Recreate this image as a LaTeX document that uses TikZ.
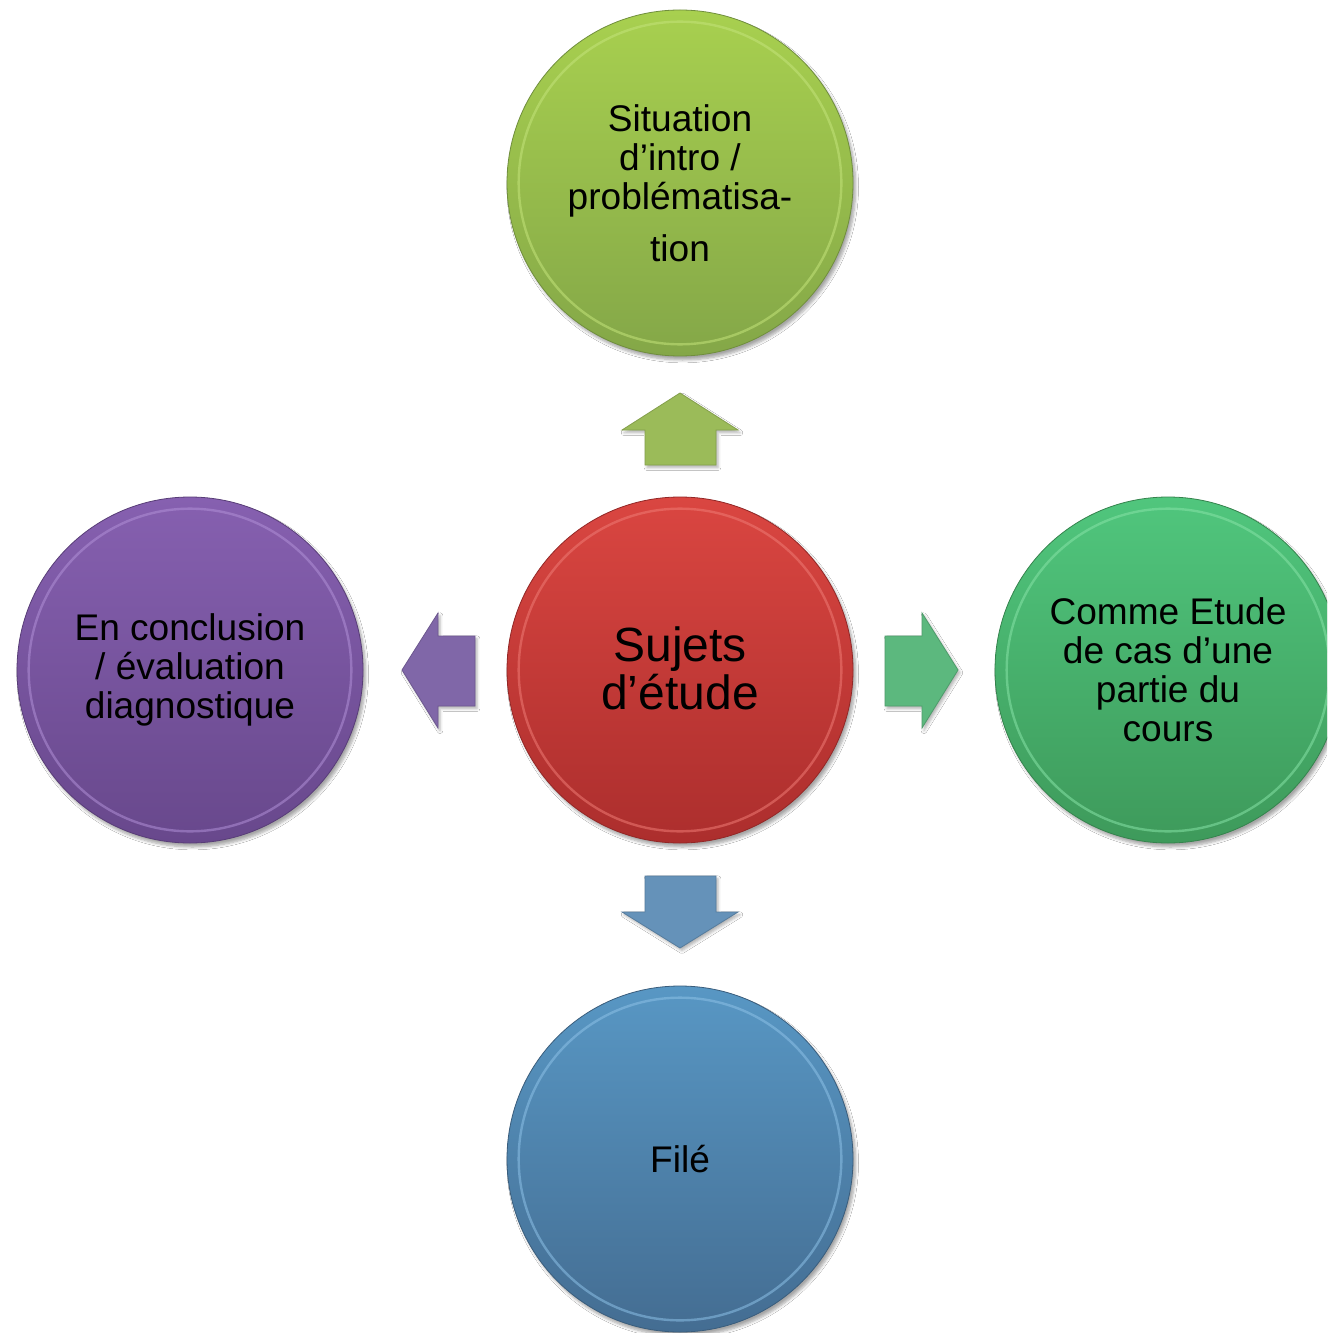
\documentclass[tikz,border=0pt]{standalone}
\usepackage{fontspec}
\setmainfont{Liberation Sans}
\usetikzlibrary{shadows.blur}
\definecolor{gTop}{HTML}{A8D04F}
\definecolor{gBot}{HTML}{84A748}
\definecolor{gRim}{HTML}{C3E37A}
\definecolor{rTop}{HTML}{DA4641}
\definecolor{rBot}{HTML}{AC2E2D}
\definecolor{rRim}{HTML}{EE7A74}
\definecolor{eTop}{HTML}{50C67D}
\definecolor{eBot}{HTML}{3E9A5B}
\definecolor{eRim}{HTML}{86E2A6}
\definecolor{pTop}{HTML}{8660B0}
\definecolor{pBot}{HTML}{68488C}
\definecolor{pRim}{HTML}{B08FD6}
\definecolor{bTop}{HTML}{5897C4}
\definecolor{bBot}{HTML}{446D92}
\definecolor{bRim}{HTML}{8CC0E6}
\definecolor{aUp}{HTML}{9BBB59}
\definecolor{aRight}{HTML}{5CB87E}
\definecolor{aDown}{HTML}{6592B9}
\definecolor{aLeft}{HTML}{8067A8}
\tikzset{
  bubble/.style n args={2}{circle, minimum size=259.5pt, inner sep=0pt,
    top color=#1, bottom color=#2, draw=#2!85!black, line width=0.6pt,
    blur shadow={shadow xshift=2pt, shadow yshift=-3pt, shadow blur steps=6, shadow opacity=35},
    align=center},
  rim/.style={draw=#1, line width=1.8pt, opacity=0.55},
  bigarrow/.style={fill=#1, draw=#1!85!black, line width=0.6pt,
    blur shadow={shadow xshift=1.5pt, shadow yshift=-2pt, shadow blur steps=4, shadow opacity=30}},
  label/.style={align=center, font=\fontsize{27.8}{29.5}\selectfont}
}
\begin{document}
\begin{tikzpicture}[x=0.75pt, y=-0.75pt]
\useasboundingbox (0,0) rectangle (1327,1333);
\fill[white] (0,0) rectangle (1327,1333);
\clip (0,0) rectangle (1327,1333);

% arrows
\path[bigarrow=aUp] (680,393) -- (738,430) -- (716,430) -- (716,465) -- (645,465) -- (645,430) -- (622,430) -- cycle;
\path[bigarrow=aRight] (958,670) -- (922,728) -- (922,706) -- (885,706) -- (885,636) -- (922,636) -- (922,613) -- cycle;
\path[bigarrow=aDown] (680,948) -- (738,912) -- (716,912) -- (716,876) -- (645,876) -- (645,912) -- (622,912) -- cycle;
\path[bigarrow=aLeft] (402,670) -- (438,728) -- (438,706) -- (475,706) -- (475,636) -- (438,636) -- (438,613) -- cycle;

% circles
\node[bubble={gTop}{gBot}] (top) at (680,183) {};
\node[bubble={rTop}{rBot}] (mid) at (680,670) {};
\node[bubble={eTop}{eBot}] (right) at (1168,670) {};
\node[bubble={pTop}{pBot}] (left) at (190,670) {};
\node[bubble={bTop}{bBot}] (bot) at (680,1159) {};

% bevel rims
\foreach \n/\c in {top/gRim, mid/rRim, right/eRim, left/pRim, bot/bRim}{
  \draw[rim=\c] (\n.center) circle[radius=121pt];
}

% texts
\node[label] (ttop) at (top.center)
  {Situation\\d’intro /\\problématisa-\\[9pt]tion};
\node[label, font=\fontsize{36}{36}\selectfont] (tmid) at ([yshift=1pt]mid.center)
  {Sujets\\d’étude};
\node[label, font=\fontsize{27.8}{29.3}\selectfont] (tright) at (right.center)
  {Comme Etude\\de cas d’une\\partie du\\cours};
\node[label, font=\fontsize{27.8}{29}\selectfont] (tleft) at (left.center)
  {En conclusion\\/ évaluation\\diagnostique};
\node[label] (tbot) at (bot.center) {Filé};
\end{tikzpicture}
\end{document}
